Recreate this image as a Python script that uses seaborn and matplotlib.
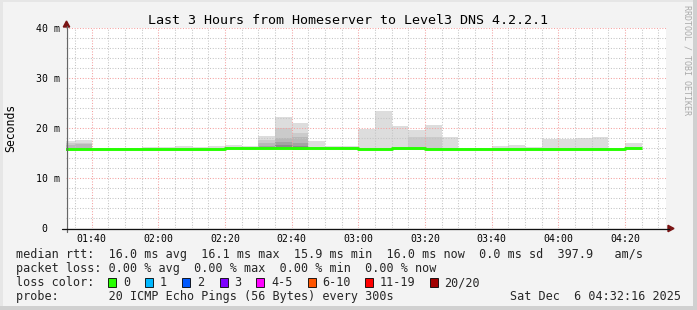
import numpy as np
import pandas as pd
import matplotlib
matplotlib.use("Agg")
import matplotlib.pyplot as plt
import matplotlib.transforms as mtrans
import seaborn as sns
from matplotlib.patches import Rectangle, Polygon
from matplotlib.lines import Line2D

# ---------------- data ----------------
bin_start = ["01:30", "01:35", "01:40", "01:45", "01:50", "01:55", "02:00", "02:05",
             "02:10", "02:15", "02:20", "02:25", "02:30", "02:35", "02:40", "02:45",
             "02:50", "02:55", "03:00", "03:05", "03:10", "03:15", "03:20", "03:25",
             "03:30", "03:35", "03:40", "03:45", "03:50", "03:55", "04:00", "04:05",
             "04:10", "04:15", "04:20"]
median_ms = [15.9, 15.9, 15.9, 15.9, 15.9, 15.9, 15.9, 15.9,
             15.9, 15.9, 16.1, 16.0, 16.0, 16.0, 16.0, 16.0,
             16.0, 16.0, 15.9, 15.9, 16.0, 16.0, 15.9, 15.9,
             15.9, 15.9, 15.9, 15.9, 15.9, 15.9, 15.9, 15.9,
             15.9, 15.9, 16.1]
smoke_min = [15.8, 15.8, 15.8, 15.8, 15.8, 15.8, 15.8, 15.8,
             15.8, 15.8, 15.8, 15.8, 15.8, 15.8, 15.6, 15.8,
             15.8, 15.8, 15.8, 15.8, 15.6, 15.6, 15.6, 15.8,
             15.8, 15.8, 15.8, 15.8, 15.8, 15.8, 15.8, 15.8,
             15.8, 15.8, 15.8]
smoke_max = [17.5, 17.7, 16.1, 16.1, 16.1, 16.2, 16.2, 16.5,
             16.3, 16.5, 16.7, 16.4, 18.5, 22.2, 21.1, 17.5,
             16.5, 16.5, 19.9, 23.5, 20.4, 19.7, 20.7, 18.3,
             16.1, 16.1, 16.5, 16.7, 16.3, 17.9, 17.9, 18.1,
             18.3, 16.1, 17.1]
smoke_q2 = [17.0, 17.1, 15.8, 15.8, 15.8, 15.8, 15.8, 15.8,
            15.8, 15.8, 15.8, 15.8, 17.7, 20.0, 19.0, 15.8,
            15.8, 15.8, 15.8, 15.8, 15.6, 18.2, 18.3, 15.8,
            15.8, 15.8, 15.8, 15.8, 15.8, 15.8, 15.8, 15.8,
            15.8, 15.8, 15.8]
smoke_q3 = [16.6, 16.8, 15.8, 15.8, 15.8, 15.8, 15.8, 15.8,
            15.8, 15.8, 15.8, 15.8, 17.0, 18.0, 18.2, 15.8,
            15.8, 15.8, 15.8, 15.8, 15.6, 15.6, 15.6, 15.8,
            15.8, 15.8, 15.8, 15.8, 15.8, 15.8, 15.8, 15.8,
            15.8, 15.8, 15.8]
smoke_q4 = [15.8, 15.8, 15.8, 15.8, 15.8, 15.8, 15.8, 15.8,
            15.8, 15.8, 15.8, 15.8, 16.5, 17.2, 17.1, 15.8,
            15.8, 15.8, 15.8, 15.8, 15.6, 15.6, 15.6, 15.8,
            15.8, 15.8, 15.8, 15.8, 15.8, 15.8, 15.8, 15.8,
            15.8, 15.8, 15.8]
smoke_q5 = [15.8, 15.8, 15.8, 15.8, 15.8, 15.8, 15.8, 15.8,
            15.8, 15.8, 15.8, 15.8, 15.8, 16.7, 16.5, 15.8,
            15.8, 15.8, 15.8, 15.8, 15.6, 15.6, 15.6, 15.8,
            15.8, 15.8, 15.8, 15.8, 15.8, 15.8, 15.8, 15.8,
            15.8, 15.8, 15.8]

x_tick_labels = ["01:40", "02:00", "02:20", "02:40", "03:00", "03:20", "03:40", "04:00", "04:20"]
y_tick_values = [0, 10, 20, 30, 40]
y_tick_labels = ["0", "10 m", "20 m", "30 m", "40 m"]

loss_labels = ["0", "1", "2", "3", "4-5", "6-10", "11-19", "20/20"]
loss_colors = ["#26ff00", "#00b8ff", "#0059ff", "#7e00ff", "#ff00ff", "#ff5500", "#ff0000", "#a10000"]

title = "Last 3 Hours from Homeserver to Level3 DNS 4.2.2.1"
legend_rtt = "median rtt:  16.0 ms avg  16.1 ms max  15.9 ms min  16.0 ms now  0.0 ms sd  397.9   am/s"
legend_loss = "packet loss: 0.00 % avg  0.00 % max  0.00 % min  0.00 % now"
legend_probe = "probe:       20 ICMP Echo Pings (56 Bytes) every 300s"
stamp = "Sat Dec  6 04:32:16 2025"
end_time = "04:32:16"

# ---------------- helpers ----------------
def to_min(s):
    parts = [int(p) for p in s.split(":")]
    m = parts[0] * 60 + parts[1]
    if len(parts) > 2:
        m += parts[2] / 60.0
    return m

W, H = 697, 310
def fx(px):
    return px / W
def fy(py):
    return 1 - py / H

sns.set_theme(style="white")
plt.rcParams["font.family"] = ["DejaVu Sans Mono"]

fig = plt.figure(figsize=(W / 100, H / 100), dpi=100)
fig.patch.set_facecolor("#f3f3f3")

ax = fig.add_axes([fx(66), fy(228.3), 600 / W, 200 / H])
ax.set_facecolor("white")

t = np.array([to_min(s) for s in bin_start])
x_end = to_min(end_time)
x_start = x_end - 180

# smoke layers
layers = [smoke_max, smoke_q2, smoke_q3, smoke_q4, smoke_q5]
layer_colors = ["#dddddd", "#cbcbcb", "#b8b8b8", "#a3a3a3", "#8c8c8c"]
lo = np.array(smoke_min)
for vals, col in zip(layers, layer_colors):
    v = np.array(vals)
    ax.bar(t, v - lo, bottom=lo, width=5, align="edge", color=col,
           linewidth=0, zorder=1)

# median line (steps)
df = pd.DataFrame({"t": np.append(t, t[-1] + 5),
                   "median": np.append(median_ms, median_ms[-1])})
sns.lineplot(data=df, x="t", y="median", ax=ax, color="#26ff00", lw=2.1,
             drawstyle="steps-post", zorder=4, solid_capstyle="butt")

ax.set_xlim(x_start, x_end)
ax.set_ylim(0, 40)

# grid
ax.set_xticks([to_min(s) for s in x_tick_labels], x_tick_labels)
ax.set_xticks(np.arange(to_min("01:35"), x_end, 5), minor=True)
ax.set_yticks(y_tick_values, y_tick_labels)
ax.set_yticks(np.arange(0, 41, 2), minor=True)
ax.set_axisbelow(False)
ax.grid(which="minor", color="#c4c4c4", lw=0.75, linestyle=(0, (1, 1.6)), zorder=3)
ax.grid(which="major", color="#f4a0a0", lw=0.75, linestyle=(0, (1, 1.6)), zorder=3)
ax.tick_params(which="both", length=0)
ax.tick_params(axis="x", pad=4.2, labelsize=7.1, colors="#000000")
ax.tick_params(axis="y", pad=4.3, labelsize=7.1, colors="#000000")
ax.set_xlabel("")
ax.set_ylabel("")
for sp in ax.spines.values():
    sp.set_visible(False)
for lab in ax.get_yticklabels():
    if lab.get_text() == "0":
        lab.set_transform(lab.get_transform() +
                          mtrans.ScaledTranslation(-0.13, 0, fig.dpi_scale_trans))

# axis lines & arrows (figure pixel coords)
fig.add_artist(Line2D([fx(66.5), fx(66.5)], [fy(231.5), fy(26)], color="#666666",
                      lw=0.9, transform=fig.transFigure))
fig.add_artist(Line2D([fx(62), fx(669)], [fy(228.5), fy(228.5)], color="#111111",
                      lw=0.9, transform=fig.transFigure))
fig.add_artist(Polygon([[fx(63.3), fy(27)], [fx(69.7), fy(27)], [fx(66.5), fy(21)]],
                       closed=True, color="#7a1414", transform=fig.transFigure))
fig.add_artist(Polygon([[fx(668), fy(225.3)], [fx(668), fy(231.7)], [fx(674), fy(228.5)]],
                       closed=True, color="#7a1414", transform=fig.transFigure))

# texts
fig.text(fx(348), fy(24), title, ha="center", va="baseline", fontsize=9.6, color="#000000")
fig.text(fx(10.5), fy(128), "Seconds", rotation=90, ha="center", va="center",
         fontsize=8.3, color="#000000")
fig.text(fx(687.5), fy(5), "RRDTOOL / TOBI OETIKER", rotation=270, ha="center", va="top",
         fontsize=6.0, color="#aaaaaa")

lf = 8.5
fig.text(fx(16), fy(258.3), legend_rtt, ha="left", va="baseline", fontsize=lf)
fig.text(fx(16), fy(272.3), legend_loss, ha="left", va="baseline", fontsize=lf)
fig.text(fx(16), fy(286.3), "loss color:", ha="left", va="baseline", fontsize=lf)
fig.text(fx(16), fy(300.3), legend_probe, ha="left", va="baseline", fontsize=lf)
fig.text(fx(681), fy(300.3), stamp, ha="right", va="baseline", fontsize=lf)

box_x = [108, 145, 182, 219.6, 256, 307.5, 365, 430]
lab_x = [123, 160, 197, 234, 271, 322, 380, 444]
for bx, lx, lab, col in zip(box_x, lab_x, loss_labels, loss_colors):
    fig.add_artist(Rectangle((fx(bx), fy(286.7)), 8.4 / W, 9 / H, facecolor=col,
                             edgecolor="#000000", lw=0.6, transform=fig.transFigure))
    fig.text(fx(lx), fy(286.3), lab, ha="left", va="baseline", fontsize=lf)

# frame shading
fig.add_artist(Rectangle((0, 0), fx(3), 1, facecolor="#e6e6e6", lw=0, transform=fig.transFigure))
fig.add_artist(Rectangle((0, fy(2)), 1, 2 / H, facecolor="#e6e6e6", lw=0, transform=fig.transFigure))
fig.add_artist(Rectangle((fx(693), 0), 4 / W, 1, facecolor="#d0d0d0", lw=0, transform=fig.transFigure))
fig.add_artist(Rectangle((0, 0), 1, 4 / H, facecolor="#d0d0d0", lw=0, transform=fig.transFigure))

fig.savefig("out.png", dpi=100, facecolor=fig.get_facecolor())
